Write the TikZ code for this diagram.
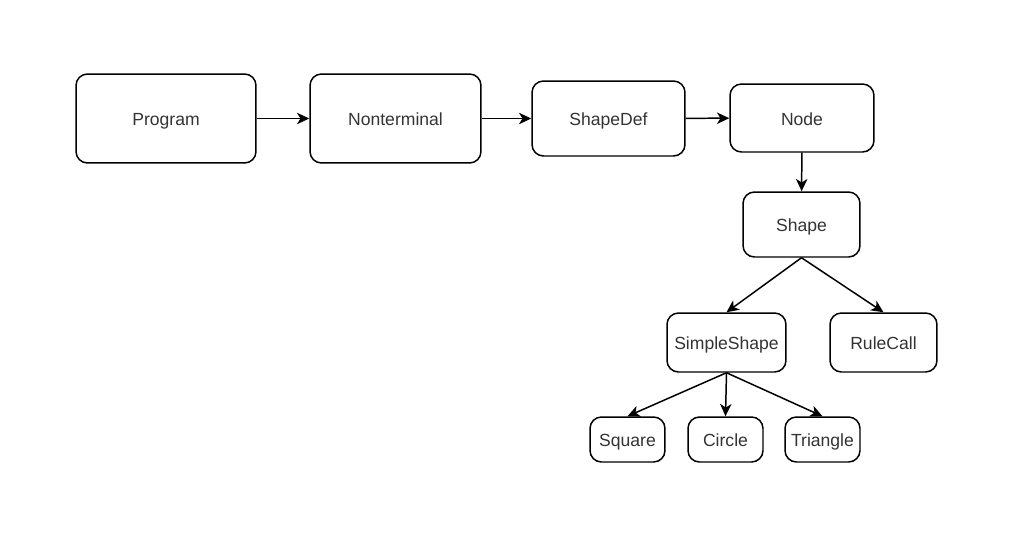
\documentclass[tikz,border=0pt]{standalone}
\usepackage{fontspec}
\setmainfont{Liberation Sans}
\usetikzlibrary{arrows.meta}

\begin{document}
\begin{tikzpicture}[x=0.02cm, y=-0.02cm,
  box/.style={draw, black, line width=0.85pt, rounded corners=6.5pt, align=center, font=\fontsize{10}{12}\selectfont, text=black!80, text height=2.0ex, text depth=0.45ex},
  arr/.style={draw, black, line width=0.85pt, -{Stealth[length=7pt,width=6.5pt,inset=2pt]}}]
\useasboundingbox (0,0) rectangle (1012,538);
% top row
\node[box, minimum width=3.6cm, minimum height=1.78cm] (program) at (166,118.5) {Program};
\node[box, minimum width=3.42cm, minimum height=1.78cm] (nonterminal) at (395.5,118.5) {Nonterminal};
\node[box, minimum width=3.06cm, minimum height=1.5cm] (shapedef) at (608.5,118.5) {ShapeDef};
\node[box, minimum width=2.88cm, minimum height=1.36cm] (node) at (802,118) {Node};
% tree
\node[box, minimum width=2.34cm, minimum height=1.3cm] (shape) at (801.5,224.5) {Shape};
\node[box, minimum width=2.38cm, minimum height=1.18cm] (simpleshape) at (726.5,342.5) {SimpleShape};
\node[box, minimum width=2.14cm, minimum height=1.18cm] (rulecall) at (883.5,342.5) {RuleCall};
\node[box, minimum width=1.5cm, minimum height=0.9cm] (square) at (627.5,439.5) {Square};
\node[box, minimum width=1.5cm, minimum height=0.9cm] (circle) at (725.5,439.5) {Circle};
\node[box, minimum width=1.5cm, minimum height=0.9cm] (triangle) at (822.5,439.5) {Triangle};

\draw[arr] (program) -- (nonterminal);
\draw[arr] (nonterminal) -- (shapedef);
\draw[arr] (shapedef) -- (node);
\draw[arr] (node) -- (shape);
\draw[arr] (shape.south) -- (simpleshape.north);
\draw[arr] (shape.south) -- (rulecall.north);
\draw[arr] (simpleshape.south) -- (square.north);
\draw[arr] (simpleshape.south) -- (circle.north);
\draw[arr] (simpleshape.south) -- (triangle.north);
\end{tikzpicture}
\end{document}
